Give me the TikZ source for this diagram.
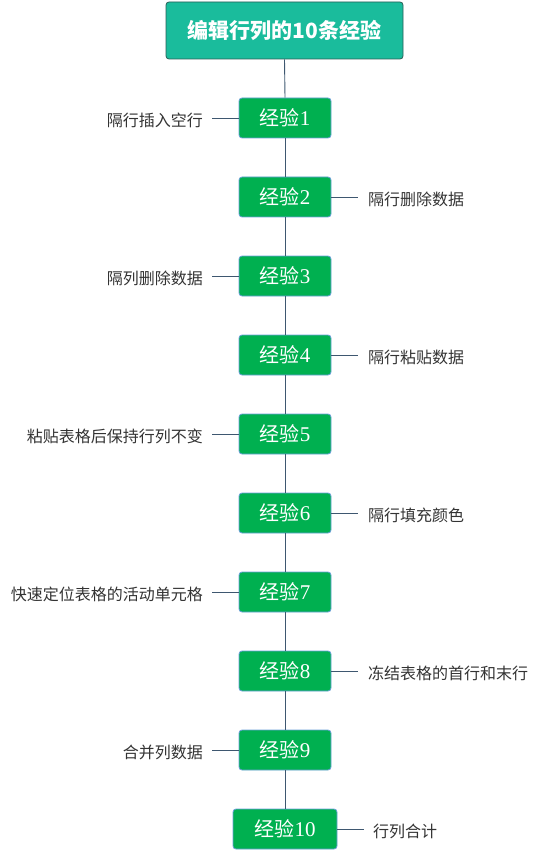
\documentclass[tikz,border=0pt]{standalone}
\usepackage{fontspec}
\setmainfont{Liberation Serif}
\newfontfamily\cjk{Noto Sans CJK SC}
\definecolor{titlefill}{HTML}{1ABC9C}
\definecolor{titleedge}{HTML}{2A5E57}
\definecolor{boxfill}{HTML}{00B050}
\definecolor{boxedge}{HTML}{6A9FD8}
\definecolor{linecol}{HTML}{3E5770}
\definecolor{labelcol}{HTML}{333333}
\tikzset{
  titlebox/.style={draw=titleedge, line width=0.8pt, fill=titlefill, rounded corners=3pt, minimum width=237pt, minimum height=57pt, inner sep=0pt, text=white, font=\fontsize{21}{24}\selectfont\cjk\bfseries},
  expbox/.style={draw=boxedge, line width=0.8pt, fill=boxfill, rounded corners=3pt, minimum width=92pt, minimum height=40pt, inner sep=0pt, text=white, font=\fontsize{20}{24}\selectfont},
  lbl/.style={text=labelcol, inner sep=0pt, font=\fontsize{16}{18}\selectfont\cjk},
  conn/.style={draw=linecol, line width=0.9pt},
}
\newcommand{\jy}[1]{{\cjk 经验}{\fontsize{21}{24}\selectfont #1}}
\begin{document}
\begin{tikzpicture}[x=1pt,y=-1pt]
\useasboundingbox (0,0) rectangle (538,850);
\node[titlebox] (t) at (284.5,30.5) {编辑行列的10条经验};
\node[expbox] (e1) at (285,118) {\jy{1}};
\node[expbox] (e2) at (285,197) {\jy{2}};
\node[expbox] (e3) at (285,276) {\jy{3}};
\node[expbox] (e4) at (285,355) {\jy{4}};
\node[expbox] (e5) at (285,434) {\jy{5}};
\node[expbox] (e6) at (285,513) {\jy{6}};
\node[expbox] (e7) at (285,592) {\jy{7}};
\node[expbox] (e8) at (285,671) {\jy{8}};
\node[expbox] (e9) at (285,750) {\jy{9}};
\node[expbox, minimum width=104pt] (e10) at (285,829) {\jy{10}};
% vertical spine
\draw[conn] (t.south) -- (e1.north);
\draw[conn] (e1.south) -- (e2.north);
\draw[conn] (e2.south) -- (e3.north);
\draw[conn] (e3.south) -- (e4.north);
\draw[conn] (e4.south) -- (e5.north);
\draw[conn] (e5.south) -- (e6.north);
\draw[conn] (e6.south) -- (e7.north);
\draw[conn] (e7.south) -- (e8.north);
\draw[conn] (e8.south) -- (e9.north);
\draw[conn] (e9.south) -- (e10.north);
% labels
\node[lbl, anchor=east] (l1) at (203,120) {隔行插入空行};
\node[lbl, anchor=west] (l2) at (368,199) {隔行删除数据};
\node[lbl, anchor=east] (l3) at (203,278) {隔列删除数据};
\node[lbl, anchor=west] (l4) at (368,357) {隔行粘贴数据};
\node[lbl, anchor=east] (l5) at (203,436) {粘贴表格后保持行列不变};
\node[lbl, anchor=west] (l6) at (368,515) {隔行填充颜色};
\node[lbl, anchor=east] (l7) at (203,594) {快速定位表格的活动单元格};
\node[lbl, anchor=west] (l8) at (368,673) {冻结表格的首行和末行};
\node[lbl, anchor=east] (l9) at (203,752) {合并列数据};
\node[lbl, anchor=west] (l10) at (373,831) {行列合计};
\coordinate (c1) at (212,118);
\coordinate (c2) at (358,197);
\coordinate (c3) at (212,276);
\coordinate (c4) at (358,355);
\coordinate (c5) at (212,434);
\coordinate (c6) at (358,513);
\coordinate (c7) at (212,592);
\coordinate (c8) at (358,671);
\coordinate (c9) at (212,750);
\coordinate (c10) at (364,829);
\draw[conn] (e1.west) -- (c1);
\draw[conn] (e2.east) -- (c2);
\draw[conn] (e3.west) -- (c3);
\draw[conn] (e4.east) -- (c4);
\draw[conn] (e5.west) -- (c5);
\draw[conn] (e6.east) -- (c6);
\draw[conn] (e7.west) -- (c7);
\draw[conn] (e8.east) -- (c8);
\draw[conn] (e9.west) -- (c9);
\draw[conn] (e10.east) -- (c10);
\end{tikzpicture}
\end{document}
